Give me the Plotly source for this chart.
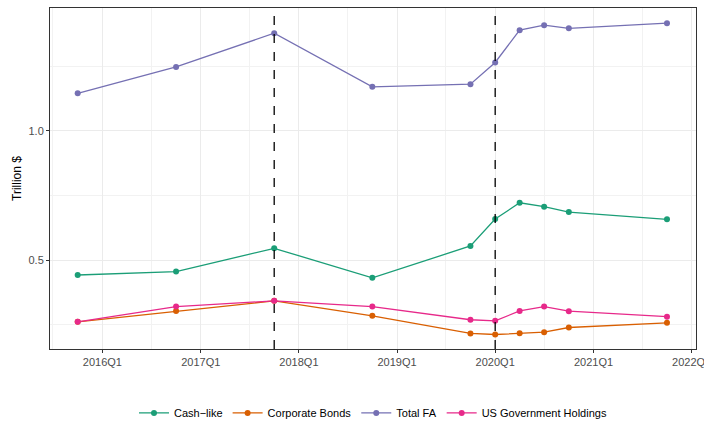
import plotly.graph_objects as go

dates = ["2015-10-01", "2016-10-01", "2017-10-01", "2018-10-01", "2019-10-01",
         "2020-01-01", "2020-04-01", "2020-07-01", "2020-10-01", "2021-10-01"]

cash_like = [0.443, 0.456, 0.546, 0.432, 0.555, 0.659, 0.722, 0.707, 0.686, 0.658]
corporate_bonds = [0.262, 0.304, 0.343, 0.285, 0.217, 0.213, 0.218, 0.222, 0.240, 0.258]
total_fa = [1.145, 1.247, 1.377, 1.170, 1.180, 1.264, 1.389, 1.408, 1.396, 1.416]
us_gov = [0.262, 0.321, 0.343, 0.321, 0.270, 0.266, 0.304, 0.321, 0.303, 0.282]

series_names = ["Cash\u2212like", "Corporate Bonds", "Total FA", "US Government Holdings"]
series_values = [cash_like, corporate_bonds, total_fa, us_gov]
colors = ["#1B9E77", "#D95F02", "#7570B3", "#E7298A"]

event_dates = ["2017-10-01", "2020-01-01"]

x_tick_vals = ["2016-01-01", "2017-01-01", "2018-01-01", "2019-01-01",
               "2020-01-01", "2021-01-01", "2022-01-01"]
x_tick_text = ["2016Q1", "2017Q1", "2018Q1", "2019Q1", "2020Q1", "2021Q1", "2022Q1"]
x_minor_vals = ["2015-07-01", "2016-07-01", "2017-07-01", "2018-07-01",
                "2019-07-01", "2020-07-01", "2021-07-01"]
y_tick_vals = [0.5, 1.0]
y_tick_text = ["0.5", "1.0"]
y_minor_vals = [0.25, 0.75, 1.25]

fig = go.Figure()
for name, vals, col in zip(series_names, series_values, colors):
    fig.add_trace(go.Scatter(
        x=dates, y=vals, name=name, mode="lines+markers",
        line=dict(color=col, width=1.3),
        marker=dict(color=col, size=6),
    ))

for d in event_dates:
    fig.add_shape(type="line", xref="x", yref="paper", x0=d, x1=d, y0=0, y1=1,
                  line=dict(color="black", width=1.3, dash="dash"), layer="above")

font_family = "Liberation Sans, Arial, sans-serif"

fig.update_layout(
    width=704, height=421,
    margin=dict(l=50, r=8, t=8, b=72, autoexpand=False),
    paper_bgcolor="white", plot_bgcolor="white",
    font=dict(family=font_family, size=11, color="#000000"),
    showlegend=True,
    legend=dict(orientation="h", x=0.5, xanchor="center", y=-0.145, yanchor="top",
                font=dict(size=11, color="#000000"), itemwidth=30,
                traceorder="normal"),
    xaxis=dict(
        type="date",
        range=["2015-06-20", "2022-01-17"],
        tickvals=x_tick_vals, ticktext=x_tick_text,
        tickfont=dict(size=11, color="#4D4D4D"),
        ticklabeloverflow="allow",
        showgrid=True, gridcolor="#EBEBEB", gridwidth=1.1,
        minor=dict(tickvals=x_minor_vals, showgrid=True, gridcolor="#F2F2F2",
                   gridwidth=0.6, ticks=""),
        showline=True, linecolor="#333333", linewidth=1, mirror=True,
        ticks="outside", ticklen=3, tickcolor="#333333", tickwidth=1,
        zeroline=False,
    ),
    yaxis=dict(
        range=[0.157, 1.4745],
        tickvals=y_tick_vals, ticktext=y_tick_text,
        tickfont=dict(size=11, color="#4D4D4D"),
        title=dict(text="Trillion $", font=dict(size=12, color="#000000"), standoff=4),
        showgrid=True, gridcolor="#EBEBEB", gridwidth=1.1,
        minor=dict(tickvals=y_minor_vals, showgrid=True, gridcolor="#F2F2F2",
                   gridwidth=0.6, ticks=""),
        showline=True, linecolor="#333333", linewidth=1, mirror=True,
        ticks="outside", ticklen=3, tickcolor="#333333", tickwidth=1,
        zeroline=False,
    ),
)

fig.write_html("out.html")
